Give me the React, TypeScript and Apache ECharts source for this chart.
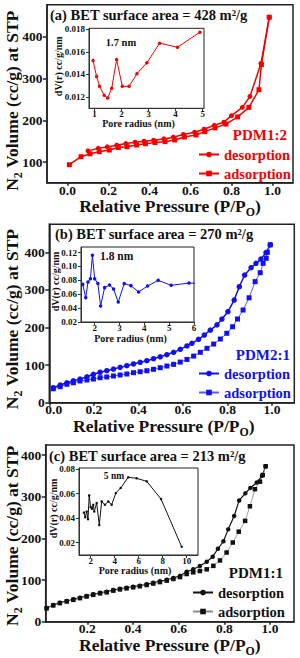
import { useEffect, useRef } from "react";
import * as echarts from "echarts";

const FONT = '"Liberation Serif", "Times New Roman", Times, serif';
const RED = "#f40000";
const BLUE = "#1010f0";
const BLUE_LT = "#5a5aff";
const BLACK = "#111111";
const GRAY = "#8a8a8a";
const AX = "#222222";

// ---------- Panel (a) PDM1:2 ----------
const pA_des = [0.10, 0.15, 0.194, 0.24, 0.285, 0.33, 0.373, 0.42, 0.47, 0.516, 0.565, 0.62, 0.666, 0.716, 0.763, 0.80, 0.853, 0.89, 0.944, 0.984];
const vA_des = [127, 133, 136.5, 140.6, 144.4, 147.8, 150, 152.5, 155.6, 159.7, 166, 171.6, 178.8, 188, 195.5, 211, 231, 257, 336, 446];
const pA_ads = [0.009, 0.066, 0.11, 0.155, 0.204, 0.248, 0.29, 0.337, 0.38, 0.427, 0.476, 0.523, 0.57, 0.627, 0.67, 0.72, 0.773, 0.83, 0.885, 0.934, 0.946, 0.984];
const vA_ads = [94, 113, 120, 125, 129, 135, 137, 141, 144, 147, 149, 153, 160, 165, 173, 182, 191, 208, 231, 273, 333, 446];
const rA = [0.95, 1.08, 1.19, 1.36, 1.49, 1.64, 1.82, 2.03, 2.28, 2.57, 2.94, 3.41, 4.07, 4.90];
const dvA = [0.01525, 0.01383, 0.01295, 0.01215, 0.01191, 0.01277, 0.01534, 0.01295, 0.01295, 0.01407, 0.01504, 0.01678, 0.01642, 0.01775];

// ---------- Panel (b) PDM2:1 ----------
const pB_des = [0.018, 0.049, 0.079, 0.108, 0.138, 0.169, 0.198, 0.228, 0.258, 0.288, 0.318, 0.348, 0.378, 0.408, 0.438, 0.468, 0.498, 0.528, 0.558, 0.588, 0.618, 0.64, 0.67, 0.696, 0.723, 0.753, 0.775, 0.802, 0.83, 0.853, 0.877, 0.906, 0.928, 0.95, 0.973, 0.992];
const vB_des = [40, 47, 53, 58, 63, 69, 75.5, 81, 85, 89.6, 94, 98.4, 103, 107.4, 111.7, 117, 122, 127.7, 134, 142, 151, 158, 168.6, 180, 193, 207, 222.6, 242, 273, 308.5, 339.6, 359, 370.7, 382, 399, 420];
const pB_ads = [0.018, 0.049, 0.079, 0.108, 0.138, 0.169, 0.198, 0.228, 0.258, 0.288, 0.318, 0.348, 0.378, 0.408, 0.438, 0.468, 0.498, 0.528, 0.558, 0.588, 0.618, 0.648, 0.678, 0.708, 0.738, 0.768, 0.797, 0.823, 0.845, 0.87, 0.897, 0.924, 0.947, 0.96, 0.974, 0.979, 0.992];
const vB_ads = [37, 42.6, 49, 53, 57.7, 60.4, 63, 66.5, 68.4, 71, 73.7, 76.3, 79.8, 82.4, 85, 88.8, 93, 97.6, 102, 108, 115, 124, 134, 144.7, 156, 169.4, 184.6, 202, 222.6, 246.5, 279, 322, 345.7, 370.7, 384, 400, 420];
const rB = [1.52, 1.64, 1.73, 1.83, 1.91, 2.0, 2.13, 2.24, 2.40, 2.60, 2.76, 2.95, 3.19, 3.46, 3.77, 4.13, 4.56, 5.08, 5.80, 6.3];
const dvB = [0.0742, 0.0551, 0.0776, 0.0824, 0.116, 0.0824, 0.0753, 0.043, 0.0695, 0.0732, 0.0675, 0.0488, 0.0753, 0.0724, 0.0632, 0.0718, 0.08, 0.0728, 0.0761, 0.0755];

// ---------- Panel (c) PDM1:1 ----------
const pC_des = [0.022, 0.051, 0.08, 0.11, 0.139, 0.168, 0.197, 0.226, 0.256, 0.285, 0.314, 0.343, 0.372, 0.401, 0.43, 0.46, 0.489, 0.518, 0.548, 0.577, 0.606, 0.635, 0.664, 0.693, 0.723, 0.749, 0.772, 0.796, 0.817, 0.843, 0.865, 0.892, 0.914, 0.942, 0.965, 0.981];
const vC_des = [33, 40, 45.6, 49.6, 53.7, 57.6, 61.6, 65.7, 69.5, 72, 76, 79, 81.5, 84, 86.3, 89.7, 93.5, 97, 100.7, 104.8, 110, 120, 125.7, 133.6, 144, 156, 175, 193, 221.6, 253.5, 291, 308, 321, 334, 350, 373];
const pC_ads = [0.022, 0.051, 0.08, 0.11, 0.139, 0.168, 0.197, 0.226, 0.256, 0.285, 0.314, 0.343, 0.372, 0.401, 0.43, 0.46, 0.489, 0.518, 0.548, 0.577, 0.606, 0.635, 0.664, 0.693, 0.723, 0.752, 0.781, 0.81, 0.837, 0.863, 0.891, 0.912, 0.934, 0.956, 0.968, 0.981];
const vC_ads = [32, 39, 44.5, 48.5, 52.5, 56.5, 60.5, 64.5, 68, 70.5, 74.5, 77.5, 80, 82.5, 85, 88, 91.5, 95, 98.5, 102.5, 107, 114.4, 118.5, 121.6, 125.7, 134, 147, 166, 190, 216, 242, 277, 318, 336, 352, 373];
const rC = [1.44, 1.55, 1.67, 1.78, 1.88, 2.0, 2.11, 2.22, 2.3, 2.5, 2.72, 2.92, 3.19, 3.47, 3.75, 4.1, 4.5, 5.13, 5.83, 6.67, 7.86, 9.58];
const dvC = [0.0447, 0.0409, 0.0455, 0.0392, 0.0586, 0.0491, 0.0477, 0.051, 0.0455, 0.0524, 0.0345, 0.0537, 0.051, 0.0537, 0.051, 0.0606, 0.0647, 0.0734, 0.0726, 0.0701, 0.0557, 0.0167];

// ---------- ticks ----------
const xTicksMainAB = [0, 0.2, 0.4, 0.6, 0.8, 1.0];
const xTicksMainC = [0.2, 0.4, 0.6, 0.8, 1.0];
const yTicksMainA = [100, 200, 300, 400];
const yTicksMainBC = [0, 100, 200, 300, 400];
const xTicksInsetA = [1, 2, 3, 4, 5];
const yTicksInsetA = [0.012, 0.014, 0.016, 0.018];
const xTicksInsetB = [2, 3, 4, 5, 6];
const yTicksInsetB = [0.02, 0.04, 0.06, 0.08, 0.10, 0.12];
const xTicksInsetC = [2, 4, 6, 8, 10];
const yTicksInsetC = [0.02, 0.04, 0.06, 0.08];

const zip = (xs: number[], ys: number[]) => xs.map((x, i) => [x, ys[i]]);

const richMain = (size: number) => ({
  a: { fontFamily: FONT, fontWeight: "bold", fontSize: size, lineHeight: size, color: BLACK, padding: [0, 0, 3, 0], verticalAlign: "bottom" },
  s: { fontFamily: FONT, fontWeight: "bold", fontSize: size * 0.68, lineHeight: size * 0.68, color: BLACK, verticalAlign: "bottom" },
});

function mainX(gi: number, min: number, max: number, ticks: number[], gap: number, padR: number, lblMargin: number, firstPad: number) {
  return {
    type: "value", gridIndex: gi, min, max, position: "bottom",
    axisLine: { show: true, onZero: false, lineStyle: { color: AX, width: 1.5 } },
    axisTick: { show: true, length: 3, customValues: ticks, lineStyle: { color: AX, width: 1.5 } },
    axisLabel: {
      customValues: ticks,
      formatter: (v: number) => (firstPad > 0 && v === 0 ? `{p|${v.toFixed(1)}}` : v.toFixed(1)),
      margin: lblMargin, align: "center", verticalAlign: "middle", lineHeight: 13,
      fontFamily: FONT, fontWeight: "bold", fontSize: 13.5, color: BLACK,
      rich: { p: { fontFamily: FONT, fontWeight: "bold", fontSize: 13.5, lineHeight: 13, color: BLACK, padding: [0, 0, 0, firstPad] } },
    },
    splitLine: { show: false },
    name: "{a|Relative Pressure (P/P}{s|O}{a|)}",
    nameLocation: "middle", nameGap: gap, nameMoveOverlap: false,
    nameTextStyle: { padding: [0, padR, 0, 0], align: "center", verticalAlign: "middle", rich: richMain(17.5) },
  };
}
function mainY(gi: number, min: number, max: number, ticks: number[], gap: number, padR: number) {
  return {
    type: "value", gridIndex: gi, min, max, position: "left",
    axisLine: { show: true, onZero: false, lineStyle: { color: AX, width: 1.5 } },
    axisTick: { show: true, length: 4, customValues: ticks, lineStyle: { color: AX, width: 1.5 } },
    axisLabel: { customValues: ticks, formatter: (v: number) => String(v), margin: 4.5, align: "right", verticalAlign: "middle", lineHeight: 13, fontFamily: FONT, fontWeight: "bold", fontSize: 13.5, color: BLACK },
    splitLine: { show: false },
    name: "{a|N}{s|2}{a| Volume (cc/g) at STP}",
    nameLocation: "middle", nameGap: gap, nameMoveOverlap: false,
    nameTextStyle: { padding: [0, padR, 0, 0], align: "center", verticalAlign: "middle", rich: richMain(17.5) },
  };
}
function insetX(gi: number, min: number, max: number, ticks: number[], gap: number, padR: number) {
  return {
    type: "value", gridIndex: gi, min, max, position: "bottom",
    axisLine: { show: true, onZero: false, lineStyle: { color: "#333", width: 1 } },
    axisTick: { show: true, length: 3, customValues: ticks, lineStyle: { color: "#333", width: 1 } },
    axisLabel: { customValues: ticks, formatter: (v: number) => String(v), margin: 5.5, align: "center", verticalAlign: "middle", lineHeight: 9, fontFamily: FONT, fontWeight: "bold", fontSize: 9, color: BLACK },
    splitLine: { show: false },
    name: "Pore radius (nm)",
    nameLocation: "middle", nameGap: gap, nameMoveOverlap: false,
    nameTextStyle: { padding: [0, padR, 0, 0], align: "center", verticalAlign: "middle", lineHeight: 10, fontFamily: FONT, fontWeight: "bold", fontSize: 10, color: BLACK },
  };
}
function insetY(gi: number, min: number, max: number, ticks: number[], digits: number, gap: number, padL: number) {
  return {
    type: "value", gridIndex: gi, min, max, position: "left",
    axisLine: { show: true, onZero: false, lineStyle: { color: "#333", width: 1 } },
    axisTick: { show: true, length: 3, customValues: ticks, lineStyle: { color: "#333", width: 1 } },
    axisLabel: { customValues: ticks, formatter: (v: number) => v.toFixed(digits), margin: 4, align: "right", verticalAlign: "middle", lineHeight: 9, fontFamily: FONT, fontWeight: "bold", fontSize: 9, color: BLACK },
    splitLine: { show: false },
    name: "dV(r) cc/g/nm",
    nameLocation: "middle", nameGap: gap, nameMoveOverlap: false,
    nameTextStyle: { padding: [0, 0, 0, padL], align: "center", verticalAlign: "middle", lineHeight: 10, fontFamily: FONT, fontWeight: "bold", fontSize: 10, color: BLACK },
  };
}

function mainSeries(name: string, gi: number, data: number[][], symbol: string, size: number, color: string, lineColor: string, lw: number) {
  return {
    type: "line", name, xAxisIndex: gi, yAxisIndex: gi, data,
    symbol, symbolSize: size, showSymbol: true,
    lineStyle: { color: lineColor, width: lw },
    itemStyle: { color, borderWidth: 0 },
    emphasis: { disabled: true },
  };
}
function insetSeries(name: string, gi: number, data: number[][], color: string, size: number) {
  return {
    type: "line", name, xAxisIndex: gi, yAxisIndex: gi, data,
    symbol: "circle", symbolSize: size, showSymbol: true, clip: true,
    lineStyle: { color, width: 1 },
    itemStyle: { color },
    emphasis: { disabled: true },
  };
}

function legend(left: number, top: number, names: string[], color: string) {
  return {
    show: true, orient: "vertical", left, top, padding: 0,
    itemWidth: 20, itemHeight: 7, itemGap: 4,
    data: names, selectedMode: false,
    formatter: (n: string) => n.split("-")[0],
    textStyle: { fontFamily: FONT, fontWeight: "bold", fontSize: 14.5, color },
  };
}

function txt(x: number, y: number, text: string, size: number, color: string, align = "left") {
  return {
    type: "text", x, y, z: 100,
    style: { text, fontFamily: FONT, fontWeight: "bold", fontSize: size, fill: color, align, verticalAlign: "middle", textAlign: align, textVerticalAlign: "middle" },
  };
}

export default function App() {
  const ref = useRef<HTMLDivElement>(null);
  useEffect(() => {
    if (!ref.current) return;
    const chart = echarts.init(ref.current, null, { renderer: "svg" });
    const grid = (left: number, top: number, width: number, height: number, bw: number, bg: string) => ({
      left, top, width, height, show: true, borderColor: AX, borderWidth: bw, backgroundColor: bg,
      containLabel: false, outerBoundsMode: "none",
    });
    chart.setOption({
      animation: false,
      backgroundColor: "#ffffff",
      textStyle: { fontFamily: FONT },
      grid: [
        grid(47, 4.7, 246, 178, 1.5, "transparent"),
        grid(89, 28.3, 115, 80, 1, "#ffffff"),
        grid(49.3, 224.3, 245, 178.4, 1.5, "transparent"),
        grid(81, 247, 113, 75, 1, "#ffffff"),
        grid(45.7, 445, 248.3, 176.7, 1.5, "transparent"),
        grid(79, 468, 119, 87, 1, "#ffffff"),
      ],
      xAxis: [
        mainX(0, -0.1, 1.1, xTicksMainAB, 27, 0, 7.5, 0),
        insetX(1, 0.8, 5.05, xTicksInsetA, 15.5, 16),
        mainX(2, 0, 1.1, xTicksMainAB, 26.5, 16, 7, 9),
        insetX(3, 1.45, 6.0, xTicksInsetB, 16.3, 14),
        mainX(4, 0.018, 1.105, xTicksMainC, 27, 0, 7, 0),
        insetX(5, 1.03, 10.94, xTicksInsetC, 15, 7),
      ],
      yAxis: [
        mainY(0, 51, 476, yTicksMainA, 31.5, 14),
        insetY(1, 0.011, 0.0181, yTicksInsetA, 3, 31, 4),
        mainY(2, 0, 474.5, yTicksMainBC, 33.8, 11),
        insetY(3, 0.02, 0.128, yTicksInsetB, 2, 26, 6),
        mainY(4, 0, 424, yTicksMainBC, 30.2, 5),
        insetY(5, 0.01, 0.081, yTicksInsetC, 2, 26, 6),
      ],
      legend: [
        legend(198, 147, ["desorption-a", "adsorption-a"], RED),
        legend(198, 366, ["desorption-b", "adsorption-b"], BLUE),
        legend(192, 585, ["desorption-c", "adsorption-c"], BLACK),
      ],
      series: [
        mainSeries("desorption-a", 0, zip(pA_des, vA_des), "circle", 5, RED, RED, 1.5),
        mainSeries("adsorption-a", 0, zip(pA_ads, vA_ads), "rect", 5, RED, RED, 1.5),
        insetSeries("psd-a", 1, zip(rA, dvA), RED, 3.5),
        mainSeries("desorption-b", 2, zip(pB_des, vB_des), "circle", 5.5, BLUE, BLUE, 1.5),
        mainSeries("adsorption-b", 2, zip(pB_ads, vB_ads), "rect", 5, BLUE, BLUE_LT, 1),
        insetSeries("psd-b", 3, zip(rB, dvB), BLUE, 3.5),
        mainSeries("desorption-c", 4, zip(pC_des, vC_des), "circle", 4.5, BLACK, BLACK, 1.2),
        mainSeries("adsorption-c", 4, zip(pC_ads, vC_ads), "rect", 4.5, BLACK, GRAY, 0.8),
        insetSeries("psd-c", 5, zip(rC, dvC), BLACK, 2.5),
      ],
      graphic: [
        txt(50, 15, "(a) BET surface area = 428 m²/g", 14.5, BLACK),
        txt(55, 234, "(b) BET surface area = 270 m²/g", 14.5, BLACK),
        txt(49, 456, "(c) BET surface area = 213 m²/g", 14.5, BLACK),
        txt(121, 42.7, "1.7 nm", 10.5, BLACK, "center"),
        txt(116.7, 255.7, "1.8 nm", 11.5, BLACK, "center"),
        txt(114, 475.7, "5 nm", 9.5, BLACK, "center"),
        txt(287, 135, "PDM1:2", 15, RED, "right"),
        txt(290, 355, "PDM2:1", 15, BLUE, "right"),
        txt(283, 573.3, "PDM1:1", 15, BLACK, "right"),
      ],
    });
    return () => chart.dispose();
  }, []);
  return <div ref={ref} style={{ position: "absolute", left: 0, top: 0, width: 300, height: 658 }} />;
}
